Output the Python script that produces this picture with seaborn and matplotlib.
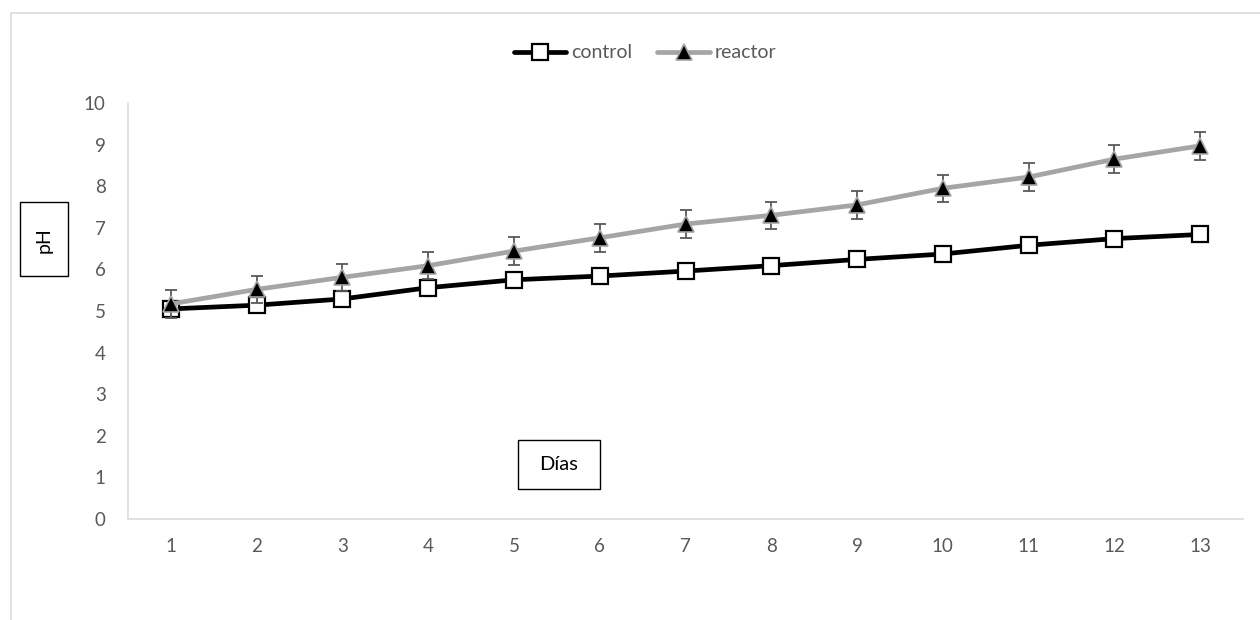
import matplotlib
matplotlib.use("Agg")
import matplotlib.pyplot as plt
from matplotlib.patches import Rectangle
from matplotlib.lines import Line2D
import seaborn as sns
import pandas as pd

# ---- data ----
days = [1, 2, 3, 4, 5, 6, 7, 8, 9, 10, 11, 12, 13]
day_labels = ["1", "2", "3", "4", "5", "6", "7", "8", "9", "10", "11", "12", "13"]
control = [5.05, 5.14, 5.29, 5.56, 5.75, 5.84, 5.96, 6.09, 6.24, 6.37, 6.58, 6.74, 6.84]
reactor = [5.17, 5.52, 5.81, 6.09, 6.44, 6.76, 7.09, 7.30, 7.55, 7.95, 8.22, 8.65, 8.97]
reactor_err = [0.33, 0.33, 0.33, 0.33, 0.33, 0.33, 0.33, 0.33, 0.33, 0.33, 0.33, 0.33, 0.33]
series_names = ["control", "reactor"]
y_ticks = [0, 1, 2, 3, 4, 5, 6, 7, 8, 9, 10]

sns.set_style("white")
plt.rcParams["font.family"] = ["Lato", "DejaVu Sans"]

W, H = 1260, 620
fig = plt.figure(figsize=(W / 100, H / 100), dpi=100)

def fx(px):
    return px / W

def fy(py):
    return 1 - py / H

ax = fig.add_axes([fx(128), fy(519), fx(1243) - fx(128), fy(103) - fy(519)])

df = pd.DataFrame({"day": days, "control": control, "reactor": reactor})

grey_tick = "#595959"
line_grey = "#A5A5A5"

sns.lineplot(data=df, x="day", y="control", ax=ax, color="black", lw=3.4,
             marker="s", markersize=11, markerfacecolor="white",
             markeredgecolor="black", markeredgewidth=1.6, zorder=3)
ax.errorbar(days, reactor, yerr=reactor_err, fmt="none", ecolor=grey_tick,
            elinewidth=1.3, capsize=4, capthick=1.3, zorder=4)
sns.lineplot(data=df, x="day", y="reactor", ax=ax, color=line_grey, lw=3.4,
             marker="^", markersize=11, markerfacecolor="black",
             markeredgecolor=line_grey, markeredgewidth=1.2, zorder=5)

ax.set_xlim(0.5, 13.5)
ax.set_ylim(0, 10)
ax.set_xticks(days)
ax.set_xticklabels(day_labels)
ax.set_yticks(y_ticks)
ax.set_yticklabels([str(v) for v in y_ticks])
ax.set_xlabel("")
ax.set_ylabel("")
ax.tick_params(axis="both", length=0, labelsize=13.5, colors=grey_tick)
ax.tick_params(axis="y", pad=16)
ax.tick_params(axis="x", pad=14)
for s in ["top", "right"]:
    ax.spines[s].set_visible(False)
for s in ["left", "bottom"]:
    ax.spines[s].set_color("#D9D9D9")
    ax.spines[s].set_linewidth(1.1)
ax.grid(False)

# legend
h1 = Line2D([], [], color="black", lw=3.4, marker="s", markersize=11,
            markerfacecolor="white", markeredgecolor="black", markeredgewidth=1.6)
h2 = Line2D([], [], color=line_grey, lw=3.4, marker="^", markersize=11,
            markerfacecolor="black", markeredgecolor=line_grey, markeredgewidth=1.2)
leg = fig.legend([h1, h2], series_names, loc="center", bbox_to_anchor=(fx(645), fy(53)),
                 ncol=2, frameon=False, fontsize=14, handlelength=2.7,
                 handletextpad=0.25, columnspacing=1.3)
for t in leg.get_texts():
    t.set_color(grey_tick)

# outer chart frame (top and left visible)
fig.add_artist(Line2D([fx(11), fx(1260)], [fy(13), fy(13)], color="#D9D9D9", lw=1.1))
fig.add_artist(Line2D([fx(11), fx(11)], [fy(13), fy(620)], color="#D9D9D9", lw=1.1))

# pH title box
fig.add_artist(Rectangle((fx(20), fy(276)), fx(68) - fx(20), fy(202) - fy(276),
                         fill=False, edgecolor="black", lw=1.0, transform=fig.transFigure))
fig.text(fx(44), fy(240), "pH", rotation=90, ha="center", va="center", fontsize=14, color="black")

# Días title box
fig.add_artist(Rectangle((fx(518), fy(489)), fx(600) - fx(518), fy(440) - fy(489),
                         fill=False, edgecolor="black", lw=1.0, transform=fig.transFigure))
fig.text(fx(559), fy(465), "Días", ha="center", va="center", fontsize=14.5, color="black")

fig.savefig("out.png", dpi=100)
